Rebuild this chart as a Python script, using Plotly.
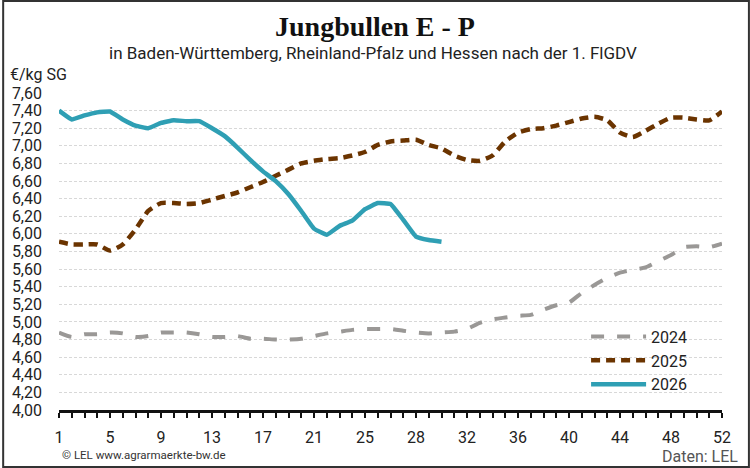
import plotly.graph_objects as go

# week slots on the x axis (53 slots, labelled every 4th)
week_slots = list(range(53))
tick_slots = [0, 4, 8, 12, 16, 20, 24, 28, 32, 36, 40, 44, 48, 52]
tick_labels = ["1", "5", "9", "13", "17", "21", "25", "28", "32", "36", "40", "44", "48", "52"]

price_2024 = [4.88, 4.83, 4.86, 4.86, 4.88, 4.87, 4.83, 4.84, 4.88, 4.88, 4.88, 4.86, 4.83,
              4.83, 4.84, 4.81, 4.81, 4.80, 4.80, 4.81, 4.84, 4.87, 4.89, 4.91, 4.92, 4.92,
              4.92, 4.90, 4.88, 4.87, 4.88, 4.89, 4.92, 4.99, 5.03, 5.05, 5.07, 5.08, 5.14,
              5.19, 5.22, 5.33, 5.42, 5.50, 5.56, 5.59, 5.62, 5.69, 5.76, 5.85, 5.86, 5.85, 5.89]
price_2025 = [5.91, 5.88, 5.88, 5.88, 5.81, 5.88, 6.05, 6.26, 6.35, 6.35, 6.34, 6.35, 6.39,
              6.43, 6.47, 6.53, 6.59, 6.66, 6.73, 6.80, 6.83, 6.85, 6.86, 6.89, 6.93, 7.01,
              7.05, 7.06, 7.07, 7.01, 6.97, 6.89, 6.84, 6.83, 6.89, 7.05, 7.15, 7.19, 7.20,
              7.23, 7.27, 7.31, 7.33, 7.29, 7.15, 7.10, 7.17, 7.25, 7.32, 7.32, 7.30, 7.29, 7.39]
price_2026 = [7.40, 7.30, 7.345, 7.38, 7.39, 7.30, 7.23, 7.20, 7.26, 7.29, 7.28, 7.28, 7.20,
              7.11, 6.98, 6.84, 6.71, 6.60, 6.45, 6.26, 6.06, 5.99, 6.09, 6.15, 6.28, 6.35,
              6.34, 6.16, 5.97, 5.93, 5.91]

FONT = "Roboto, 'Liberation Sans', sans-serif"

fig = go.Figure()
fig.add_trace(go.Scatter(
    x=week_slots[:len(price_2024)], y=price_2024, name="2024", mode="lines",
    line=dict(color="#9a9896", width=4, dash="13px,13px", shape="spline", smoothing=0.5),
))
fig.add_trace(go.Scatter(
    x=week_slots[:len(price_2025)], y=price_2025, name="2025", mode="lines",
    line=dict(color="#6b3400", width=4.5, dash="9px,6px", shape="spline", smoothing=0.5),
))
fig.add_trace(go.Scatter(
    x=week_slots[:len(price_2026)], y=price_2026, name="2026", mode="lines",
    line=dict(color="#2f9fb4", width=4.5, shape="spline", smoothing=0.3),
))

fig.update_layout(
    width=750, height=468,
    margin=dict(l=57, r=28, t=93, b=58),
    paper_bgcolor="white", plot_bgcolor="white",
    separators=",.",
    font=dict(family=FONT, size=16, color="#222"),
    title=dict(
        text="<b>Jungbullen E - P</b>",
        x=0.5, xanchor="center", y=0.945, yanchor="middle",
        font=dict(family="'Liberation Serif', serif", size=28, color="#111"),
    ),
    showlegend=True,
    legend=dict(
        x=0.795, y=0.285, xanchor="left", yanchor="top",
        bgcolor="rgba(0,0,0,0)", font=dict(size=16, color="#222"),
        itemwidth=55, tracegroupgap=0,
    ),
    xaxis=dict(
        range=[0, 52], showgrid=False, zeroline=False,
        showline=True, linecolor="#111", linewidth=2.5,
        tickmode="array", tickvals=tick_slots, ticktext=tick_labels,
        ticks="outside", ticklen=5, tickwidth=2, tickcolor="#111",
        minor=dict(dtick=1, ticks="outside", ticklen=5, tickwidth=2, tickcolor="#111"),
        ticklabelstandoff=6,
        tickfont=dict(size=16, color="#222"),
    ),
    yaxis=dict(
        range=[4, 7.6], dtick=0.2, tickformat=".2f",
        showgrid=True, gridcolor="#d8d8d8", gridwidth=1, griddash="3px,2px",
        zeroline=False, showline=False, ticks="",
        ticklabelstandoff=16,
        tickfont=dict(size=16, color="#222"),
    ),
    annotations=[
        dict(text="in Baden-Württemberg, Rheinland-Pfalz und Hessen nach der 1. FlGDV",
             xref="paper", yref="paper", x=(372 - 57) / 665, y=1 + (93 - 53) / 317,
             xanchor="center", yanchor="middle", showarrow=False,
             font=dict(size=17, color="#222")),
        dict(text="€/kg SG", xref="paper", yref="paper",
             x=(6 - 57) / 665, y=1 + (93 - 75) / 317,
             xanchor="left", yanchor="middle", showarrow=False,
             font=dict(size=16, color="#222")),
        dict(text="© LEL www.agrarmaerkte-bw.de", xref="paper", yref="paper",
             x=(58 - 57) / 665, y=-(455 - 410) / 317,
             xanchor="left", yanchor="middle", showarrow=False,
             font=dict(size=11.5, color="#333")),
        dict(text="Daten: LEL", xref="paper", yref="paper",
             x=1 + (740 - 722) / 665, y=-(456 - 410) / 317,
             xanchor="right", yanchor="middle", showarrow=False,
             font=dict(size=16, color="#555")),
    ],
    shapes=[
        dict(type="rect", xref="paper", yref="paper",
             x0=-56 / 665, x1=1 + 27 / 665, y0=-57 / 317, y1=1 + 92 / 317,
             line=dict(color="#333", width=2), fillcolor="rgba(0,0,0,0)", layer="below"),
    ],
)

# drop the default page margin so the 750x468 figure fills the window
fig.write_html(
    "out.html",
    config={"displayModeBar": False},
    post_script="document.body.style.margin='0';",
)
